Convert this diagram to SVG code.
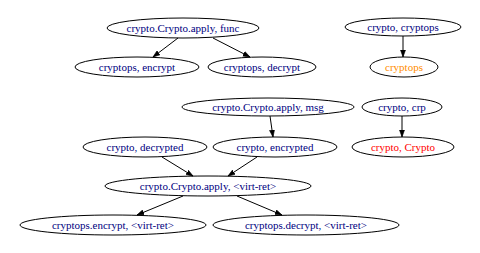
<svg xmlns="http://www.w3.org/2000/svg" width="480" height="253" viewBox="0 0 480 253">
  <style>
    .node ellipse { fill: none; stroke: #000; stroke-width: 1; }
    .node text { font-family: "Liberation Serif", "Times New Roman", serif; font-size: 11px; text-anchor: middle; fill: #000080; }
    .edges line { stroke: #000; stroke-width: 1; marker-end: url(#arrow); }
  </style>
  <defs>
    <marker id="arrow" markerWidth="8" markerHeight="6" refX="7" refY="3" orient="auto" markerUnits="userSpaceOnUse">
      <path d="M0,0.5 L7,3 L0,5.5 Z" fill="#000" stroke="#000" stroke-width="0.6"/>
    </marker>
  </defs>
  <rect width="480" height="253" fill="#fff"/>

  <g class="edges">
    <line x1="178" y1="38" x2="153" y2="57"/>
    <line x1="213" y1="38" x2="250" y2="57"/>
    <line x1="403" y1="36" x2="403" y2="57"/>
    <line x1="270" y1="116" x2="273" y2="137"/>
    <line x1="402" y1="116" x2="402" y2="137"/>
    <line x1="162" y1="157" x2="193" y2="176"/>
    <line x1="257" y1="157" x2="228" y2="176"/>
    <line x1="183" y1="196" x2="137" y2="215"/>
    <line x1="237" y1="196" x2="282" y2="215"/>
  </g>

  <g id="n_apply_func" class="node">
    <ellipse cx="183" cy="28" rx="76" ry="10"/>
    <text x="183" y="31.5">crypto.Crypto.apply, func</text>
  </g>
  <g id="n_cryptops_encrypt" class="node">
    <ellipse cx="137" cy="67" rx="62" ry="10"/>
    <text x="137" y="70.5">cryptops, encrypt</text>
  </g>
  <g id="n_cryptops_decrypt" class="node">
    <ellipse cx="262" cy="67" rx="54" ry="10"/>
    <text x="262" y="70.5">cryptops, decrypt</text>
  </g>
  <g id="n_crypto_cryptops" class="node">
    <ellipse cx="403" cy="27" rx="58" ry="9"/>
    <text x="403" y="30.5">crypto, cryptops</text>
  </g>
  <g id="n_cryptops" class="node">
    <ellipse cx="404" cy="67" rx="34" ry="10"/>
    <text x="404" y="70.5" style="fill:#ff8c00">cryptops</text>
  </g>
  <g id="n_apply_msg" class="node">
    <ellipse cx="268" cy="107" rx="86" ry="9"/>
    <text x="268" y="110.5">crypto.Crypto.apply, msg</text>
  </g>
  <g id="n_crypto_crp" class="node">
    <ellipse cx="402" cy="107" rx="40" ry="9"/>
    <text x="402" y="110.5">crypto, crp</text>
  </g>
  <g id="n_crypto_decrypted" class="node">
    <ellipse cx="145" cy="147" rx="62" ry="10"/>
    <text x="145" y="150.5">crypto, decrypted</text>
  </g>
  <g id="n_crypto_encrypted" class="node">
    <ellipse cx="275" cy="147" rx="62" ry="10"/>
    <text x="275" y="150.5">crypto, encrypted</text>
  </g>
  <g id="n_crypto_Crypto" class="node">
    <ellipse cx="403" cy="147" rx="51" ry="10"/>
    <text x="403" y="150.5" style="fill:#ff0000">crypto, Crypto</text>
  </g>
  <g id="n_apply_virtret" class="node">
    <ellipse cx="208" cy="186" rx="103" ry="10"/>
    <text x="208" y="189.5">crypto.Crypto.apply, &lt;virt-ret&gt;</text>
  </g>
  <g id="n_encrypt_virtret" class="node">
    <ellipse cx="113" cy="225" rx="93" ry="10"/>
    <text x="113" y="228.5">cryptops.encrypt, &lt;virt-ret&gt;</text>
  </g>
  <g id="n_decrypt_virtret" class="node">
    <ellipse cx="306" cy="225" rx="93" ry="10"/>
    <text x="306" y="228.5">cryptops.decrypt, &lt;virt-ret&gt;</text>
  </g>
</svg>
